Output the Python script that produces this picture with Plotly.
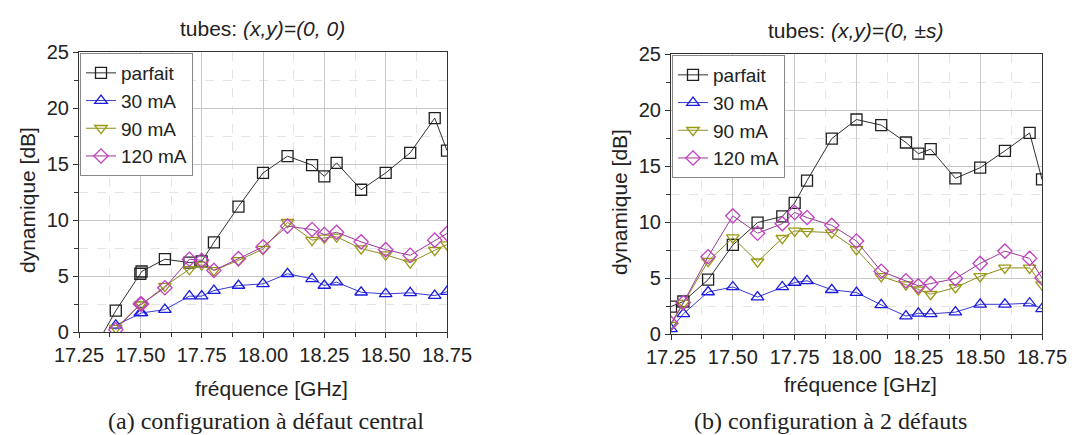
import plotly.graph_objects as go

# (a) configuration a defaut central
freq_a = [17.3, 17.4, 17.5, 17.505, 17.6, 17.7, 17.75, 17.8, 17.9, 18.0, 18.1,
          18.2, 18.25, 18.3, 18.4, 18.5, 18.6, 18.7, 18.75]
parfait_a = [-2.0, 1.9, 5.2, 5.4, 6.5, 6.2, 6.3, 8.0, 11.2, 14.2, 15.7,
             14.9, 13.9, 15.1, 12.7, 14.2, 16.0, 19.1, 16.2]
ma30_a = [None, 0.6, 1.7, 1.7, 2.0, 3.2, 3.2, 3.7, 4.15, 4.3, 5.2,
          4.75, 4.15, 4.45, 3.55, 3.4, 3.5, 3.25, 3.6]
ma90_a = [None, 0.35, 2.45, 2.45, 4.1, 5.6, 6.0, 5.5, 6.4, 7.4, 9.8,
          8.2, 8.4, 8.5, 7.45, 6.9, 6.2, 7.3, 7.8]
ma120_a = [None, 0.2, 2.5, 2.5, 3.95, 6.5, 6.4, 5.5, 6.55, 7.6, 9.45,
           9.15, 8.7, 8.9, 8.05, 7.35, 6.85, 8.2, 8.8]

# (b) configuration a 2 defauts
freq_b = [17.25, 17.3, 17.4, 17.5, 17.6, 17.7, 17.75, 17.8, 17.9, 18.0, 18.1,
          18.2, 18.25, 18.3, 18.4, 18.5, 18.6, 18.7, 18.75]
parfait_b = [2.45, 2.9, 4.85, 7.95, 9.95, 10.5, 11.7, 13.7, 17.45, 19.15, 18.65,
             17.1, 16.1, 16.5, 13.9, 14.85, 16.35, 17.95, 13.8]
ma30_b = [0.45, 1.8, 3.75, 4.2, 3.3, 4.2, 4.6, 4.75, 3.95, 3.7, 2.6,
          1.6, 1.85, 1.8, 1.95, 2.65, 2.65, 2.75, 2.25]
ma90_b = [0.8, 2.75, 6.5, 8.6, 6.45, 8.55, 9.2, 9.15, 9.05, 7.55, 5.15,
          4.4, 3.95, 3.55, 4.15, 5.15, 5.9, 5.9, 4.4]
ma120_b = [0.95, 2.8, 6.9, 10.55, 9.0, 9.85, 10.85, 10.4, 9.7, 8.3, 5.6,
           4.75, 4.3, 4.5, 4.95, 6.3, 7.4, 6.75, 5.0]

noms = ["parfait", "30 mA", "90 mA", "120 mA"]
symboles = ["square-open", "triangle-up-open", "triangle-down-open", "diamond-open"]
couleurs_ligne = ["#303030", "#3a3ad0", "#8c8c20", "#9a3a9a"]
couleurs_marq = ["#202020", "#1a1ae0", "#9a9a10", "#c040c0"]

fig = go.Figure()

series = [
    ("x", "y", "legend", freq_a, [parfait_a, ma30_a, ma90_a, ma120_a]),
    ("x2", "y2", "legend2", freq_b, [parfait_b, ma30_b, ma90_b, ma120_b]),
]
for xa, ya, leg, freq, vals in series:
    for i, v in enumerate(vals):
        fig.add_trace(go.Scatter(
            x=freq, y=v, xaxis=xa, yaxis=ya, legend=leg,
            name=noms[i], mode="lines+markers", connectgaps=False,
            line=dict(color=couleurs_ligne[i], width=1),
            marker=dict(symbol=symboles[i], size=11, color=couleurs_marq[i],
                        line=dict(width=1.3, color=couleurs_marq[i])),
            cliponaxis=True,
        ))

police = "Liberation Sans"
xcommon = dict(range=[17.25, 18.75], tickvals=[17.25, 17.5, 17.75, 18.0, 18.25, 18.5, 18.75],
               ticktext=["17.25", "17.50", "17.75", "18.00", "18.25", "18.50", "18.75"],
               showline=True, linecolor="#333", linewidth=1.2, mirror=True,
               ticks="outside", ticklen=5, tickcolor="#333", automargin=False,
               showgrid=True, gridcolor="#c8c8c8", gridwidth=1, zeroline=False,
               minor=dict(dtick=0.125, tick0=17.25, showgrid=True, gridcolor="#e4e4e4",
                          griddash="dash", ticks="outside", ticklen=4, tickcolor="#333"),
               tickfont=dict(family=police, size=20, color="#222"))
ycommon = dict(range=[0, 25], dtick=5,
               showline=True, linecolor="#333", linewidth=1.2, mirror=True,
               ticks="outside", ticklen=5, tickcolor="#333", automargin=False,
               showgrid=True, gridcolor="#c8c8c8", gridwidth=1, zeroline=False,
               minor=dict(dtick=2.5, showgrid=True, gridcolor="#e4e4e4",
                          griddash="dash", ticks="outside", ticklen=4, tickcolor="#333"),
               tickfont=dict(family=police, size=20, color="#222"))

legcommon = dict(bgcolor="white", bordercolor="#888", borderwidth=1,
                 font=dict(family=police, size=19, color="#222"),
                 xanchor="left", yanchor="top", tracegroupgap=0, itemwidth=30)

fig.update_layout(
    width=1076, height=435,
    margin=dict(l=0, r=0, t=0, b=0),
    paper_bgcolor="white", plot_bgcolor="white",
    xaxis=dict(domain=[71 / 1076, 439 / 1076], anchor="y", **xcommon),
    yaxis=dict(domain=[1 - 324 / 435, 1 - 44 / 435], anchor="x", **ycommon),
    xaxis2=dict(domain=[663 / 1076, 1034 / 1076], anchor="y2", **xcommon),
    yaxis2=dict(domain=[1 - 326 / 435, 1 - 46 / 435], anchor="x2", **ycommon),
    legend=dict(x=72 / 1076, y=1 - 45 / 435, **legcommon),
    legend2=dict(x=664 / 1076, y=1 - 47 / 435, **legcommon),
    showlegend=True,
)

annots = [
    dict(text="tubes: <i>(x,y)=(0, 0)</i>", x=254 / 1076, y=1 - 21 / 435),
    dict(text="tubes: <i>(x,y)=(0, ±s)</i>", x=848 / 1076, y=1 - 23 / 435),
    dict(text="fréquence [GHz]", x=263 / 1076, y=1 - 380 / 435),
    dict(text="fréquence [GHz]", x=852 / 1076, y=1 - 376 / 435),
]
for a in annots:
    fig.add_annotation(text=a["text"], x=a["x"], y=a["y"], xref="paper", yref="paper",
                       showarrow=False, xanchor="center", yanchor="middle",
                       font=dict(family=police, size=21, color="#222"))

for xp, yp in [(19, 192), (611, 194)]:
    fig.add_annotation(text="dynamique [dB]", x=xp / 1076, y=1 - yp / 435,
                       xref="paper", yref="paper", showarrow=False, textangle=-90,
                       xanchor="center", yanchor="middle",
                       font=dict(family=police, size=21, color="#222"))

for txt, xp in [("(a) configuration à défaut central", 258),
                ("(b) configuration à 2 défauts", 822)]:
    fig.add_annotation(text=txt, x=xp / 1076, y=1 - 413 / 435, xref="paper", yref="paper",
                       showarrow=False, xanchor="center", yanchor="middle",
                       font=dict(family="Liberation Serif", size=24, color="#222"))

fig.write_html("out.html")
